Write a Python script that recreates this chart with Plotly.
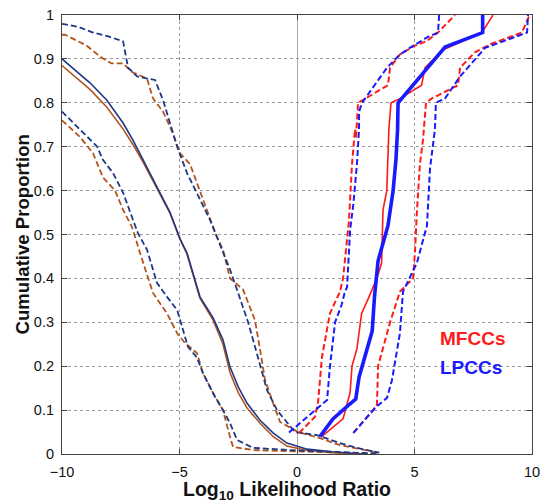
import plotly.graph_objects as go

# ---- Left group: descending curves (navy / brown) ----
navy_dash_top_x = [-10, -9.3, -8.68, -7.96, -7.4, -7.19, -6.8, -6.04, -5.7, -5.4, -5.1, -4.68, -4.26, -3.7, -3.3, -2.85, -2.5, -2.08, -1.66, -1.28, -0.85, -0.6, -0.09, 0.85, 1.8, 2.7, 3.5]
navy_dash_top_y = [0.98, 0.973, 0.96, 0.95, 0.94, 0.88, 0.86, 0.852, 0.806, 0.754, 0.70, 0.64, 0.595, 0.533, 0.48, 0.42, 0.366, 0.30, 0.22, 0.146, 0.10, 0.084, 0.05, 0.043, 0.025, 0.012, 0.003]

brown_dash_top_x = [-10, -9.87, -8.94, -8.38, -7.9, -7.4, -7.02, -6.38, -6.13, -5.7, -5.28, -4.98, -4.55, -4.13, -3.79, -3.45, -3.15, -2.85, -2.3, -1.79, -1.57, -1.36, -1.02, -0.72, 0.04, 0.98, 1.83, 2.68, 3.5]
brown_dash_top_y = [0.955, 0.955, 0.93, 0.905, 0.89, 0.89, 0.87, 0.855, 0.81, 0.78, 0.73, 0.685, 0.66, 0.60, 0.55, 0.50, 0.465, 0.40, 0.375, 0.305, 0.237, 0.169, 0.116, 0.073, 0.05, 0.036, 0.02, 0.011, 0.003]

navy_solid_x = [-10, -9.36, -8.8, -8.09, -7.4, -6.98, -6.55, -5.96, -5.4, -4.98, -4.68, -4.13, -3.57, -3.15, -2.85, -2.5, -2.13, -1.57, -1.02, -0.43, 0.43, 1.5, 2.8]
navy_solid_y = [0.90, 0.87, 0.845, 0.806, 0.754, 0.715, 0.67, 0.61, 0.55, 0.49, 0.458, 0.358, 0.31, 0.26, 0.198, 0.153, 0.116, 0.077, 0.048, 0.025, 0.011, 0.005, 0.0]

brown_solid_x = [-10, -9.36, -8.8, -8.09, -7.4, -6.98, -6.55, -5.96, -5.4, -4.98, -4.68, -4.13, -3.57, -3.15, -2.85, -2.5, -2.13, -1.57, -1.02, -0.43, 0.43, 1.5, 2.8]
brown_solid_y = [0.885, 0.855, 0.83, 0.79, 0.74, 0.705, 0.665, 0.605, 0.548, 0.49, 0.455, 0.355, 0.305, 0.25, 0.185, 0.14, 0.105, 0.07, 0.04, 0.018, 0.008, 0.003, 0.0]

navy_dash_low_x = [-10, -9.36, -8.8, -8.5, -8.26, -7.83, -7.4, -7.1, -6.77, -6.38, -5.96, -5.53, -5.1, -4.89, -4.64, -4.26, -4.0, -3.49, -3.15, -2.85, -2.55, -1.87, 0, 2, 3.5]
navy_dash_low_y = [0.78, 0.745, 0.715, 0.70, 0.67, 0.64, 0.595, 0.55, 0.503, 0.465, 0.39, 0.358, 0.328, 0.29, 0.244, 0.22, 0.184, 0.13, 0.10, 0.07, 0.032, 0.014, 0.008, 0.004, 0.001]

brown_dash_low_x = [-10, -9.23, -8.68, -8.26, -7.74, -7.4, -7.02, -6.77, -6.68, -6.13, -5.53, -5.1, -4.77, -4.26, -4.0, -3.57, -3.15, -2.85, -2.72, -1.87, 0, 2, 3.2]
brown_dash_low_y = [0.76, 0.722, 0.685, 0.63, 0.60, 0.556, 0.517, 0.47, 0.458, 0.367, 0.32, 0.275, 0.253, 0.23, 0.184, 0.139, 0.10, 0.039, 0.016, 0.009, 0.006, 0.003, 0.001]

# ---- Right group: ascending curves (MFCCs red, LPCCs blue) ----
lpcc_solid_x = [0.98, 1.53, 2.17, 2.5, 2.64, 2.98, 3.2, 3.3, 3.45, 3.66, 3.87, 4.09, 4.21, 4.28, 4.30, 6.3, 7.9, 7.9]
lpcc_solid_y = [0.04, 0.08, 0.11, 0.125, 0.175, 0.24, 0.28, 0.36, 0.44, 0.48, 0.52, 0.60, 0.67, 0.74, 0.80, 0.927, 0.96, 1.0]

mfcc_solid_x = [1.06, 1.96, 2.26, 2.34, 2.55, 2.75, 3.0, 3.4, 3.6, 3.66, 3.82, 3.85, 3.91, 4.0, 4.4, 5.3, 5.45, 6.2, 7.87, 8.34]
mfcc_solid_y = [0.04, 0.08, 0.14, 0.2, 0.24, 0.32, 0.35, 0.4, 0.435, 0.556, 0.6, 0.65, 0.74, 0.80, 0.81, 0.84, 0.88, 0.92, 0.96, 1.0]

lpcc_dash_lo_x = [-0.34, 1.28, 1.4, 1.62, 1.9, 2.04, 2.13, 2.26, 2.4, 2.55, 2.64, 2.64, 2.77, 3.83, 4.38, 4.8, 5.57, 6.0, 6.05]
lpcc_dash_lo_y = [0.049, 0.123, 0.198, 0.30, 0.34, 0.37, 0.38, 0.51, 0.57, 0.66, 0.74, 0.78, 0.80, 0.88, 0.91, 0.925, 0.95, 0.96, 1.0]

mfcc_dash_lo_x = [0.09, 0.77, 0.9, 1.06, 1.4, 1.83, 1.96, 2.21, 2.34, 2.47, 2.51, 2.6, 3.87, 3.96, 4.38, 5.0, 5.5, 6.0, 6.72]
mfcc_dash_lo_y = [0.048, 0.085, 0.12, 0.22, 0.32, 0.37, 0.40, 0.53, 0.66, 0.74, 0.72, 0.80, 0.84, 0.88, 0.91, 0.93, 0.94, 0.96, 1.0]

mfcc_dash_hi_x = [2.4, 3.4, 3.45, 3.74, 3.96, 4.38, 4.94, 5.02, 5.1, 5.23, 5.36, 5.49, 5.74, 6.85, 6.94, 7.57, 8.3, 9.57, 9.9]
mfcc_dash_hi_y = [0.048, 0.11, 0.2, 0.255, 0.30, 0.37, 0.40, 0.46, 0.55, 0.66, 0.715, 0.80, 0.81, 0.84, 0.88, 0.915, 0.935, 0.96, 1.0]

lpcc_dash_hi_x = [2.4, 3.32, 3.83, 4.04, 4.38, 4.51, 5.1, 5.53, 5.66, 5.87, 5.91, 6.3, 6.94, 8.0, 9.79, 9.83]
lpcc_dash_hi_y = [0.048, 0.105, 0.128, 0.168, 0.275, 0.37, 0.435, 0.52, 0.65, 0.74, 0.80, 0.81, 0.86, 0.925, 0.96, 1.0]

x_ticks = [-10, -5, 0, 5, 10]
y_ticks = [0, 0.1, 0.2, 0.3, 0.4, 0.5, 0.6, 0.7, 0.8, 0.9, 1]
y_tick_labels = ["0", "0.1", "0.2", "0.3", "0.4", "0.5", "0.6", "0.7", "0.8", "0.9", "1"]

NAVY = "#1f3884"
BROWN = "#b3541f"
RED = "#ff1a1a"
BLUE = "#1a1aff"
DASH = "6px,3px"
FONT = "Liberation Sans, Arial, sans-serif"

fig = go.Figure()

def add(x, y, color, width, dash=None):
    fig.add_trace(go.Scatter(x=x, y=y, mode="lines",
                             line=dict(color=color, width=width, dash=dash),
                             showlegend=False, hoverinfo="skip"))

add(brown_dash_top_x, brown_dash_top_y, BROWN, 1.8, DASH)
add(navy_dash_top_x, navy_dash_top_y, NAVY, 1.8, DASH)
add(brown_solid_x, brown_solid_y, BROWN, 1.6)
add(navy_solid_x, navy_solid_y, NAVY, 1.6)
add(brown_dash_low_x, brown_dash_low_y, BROWN, 1.8, DASH)
add(navy_dash_low_x, navy_dash_low_y, NAVY, 1.8, DASH)

add(mfcc_dash_lo_x, mfcc_dash_lo_y, RED, 2.0, DASH)
add(lpcc_dash_lo_x, lpcc_dash_lo_y, BLUE, 2.0, DASH)
add(mfcc_dash_hi_x, mfcc_dash_hi_y, RED, 2.0, DASH)
add(lpcc_dash_hi_x, lpcc_dash_hi_y, BLUE, 2.0, DASH)
add(mfcc_solid_x, mfcc_solid_y, RED, 1.6)
add(lpcc_solid_x, lpcc_solid_y, BLUE, 3.6)

axis_common = dict(showline=True, linecolor="#444444", linewidth=1.2, mirror="allticks",
                   ticks="inside", ticklen=5, tickcolor="#444444", automargin=False,
                   showgrid=True, gridcolor="#999999", griddash="dot", gridwidth=1,
                   tickfont=dict(family=FONT, size=14.5, color="#111111"))

fig.update_xaxes(range=[-10, 10], tickvals=x_ticks, zeroline=True, zerolinecolor="#aaaaaa",
                 zerolinewidth=1.2, ticklabelstandoff=4, **axis_common)
fig.update_yaxes(range=[0, 1], tickvals=y_ticks, ticktext=y_tick_labels, zeroline=False,
                 ticklabelstandoff=4, **axis_common)

# axis titles
fig.add_annotation(x=0.479, y=-0.083, xref="paper", yref="paper",
                   text="<b>Log<sub>10</sub> Likelihood Ratio</b>", showarrow=False,
                   xanchor="center", yanchor="middle", borderpad=0,
                   font=dict(family=FONT, size=19.5, color="#111111"))
fig.add_annotation(x=-0.085, y=0.5, xref="paper", yref="paper",
                   text="<b>Cumulative Proportion</b>", showarrow=False, textangle=-90,
                   xanchor="center", yanchor="middle",
                   font=dict(family=FONT, size=18.6, color="#111111"))

fig.add_annotation(x=6.0, y=0.262, xref="x", yref="y", text="<b>MFCCs</b>", showarrow=False,
                   xanchor="left", font=dict(family=FONT, size=19, color=RED))
fig.add_annotation(x=6.0, y=0.196, xref="x", yref="y", text="<b>LPCCs</b>", showarrow=False,
                   xanchor="left", font=dict(family=FONT, size=19, color=BLUE))

fig.update_layout(width=542, height=501, margin=dict(l=62, r=10, t=15, b=47, autoexpand=False),
                  paper_bgcolor="white", plot_bgcolor="white", showlegend=False)

fig.write_html("out.html", config={"displayModeBar": False},
               post_script="document.body.style.margin='0px';document.body.style.overflow='hidden';")
